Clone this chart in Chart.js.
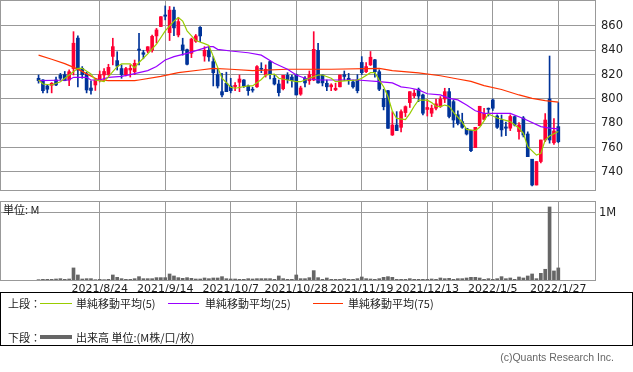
<!DOCTYPE html>
<html>
<head>
<meta charset="utf-8">
<script src="https://cdn.jsdelivr.net/npm/chart.js@4.4.1/dist/chart.umd.min.js"></script>
<style>
  body { margin: 0; width: 633px; height: 372px; background: #fff; position: relative; overflow: hidden;
         font-family: "DejaVu Sans", sans-serif; }
  canvas { position: absolute; left: 0; }
  #priceChart { top: 0; }
  #volChart { top: 200px; }
  .unit { position: absolute; left: 3px; top: 203px; font: 11px "Noto Sans CJK JP", sans-serif; line-height: 12px; color: #222; }
  .legend { position: absolute; left: 0; top: 292px; width: 631px; height: 52px; border: 1px solid #000;
            font: 11px "Noto Sans CJK JP", sans-serif; color: #222; }
  .legend span { position: absolute; line-height: 14px; white-space: nowrap; }
  .legend i { position: absolute; display: block; }
  .copy { position: absolute; right: 19px; top: 351px; font: 10.5px "Liberation Sans", sans-serif; color: #666; }
</style>
</head>
<body>
<canvas id="priceChart" width="633" height="191"></canvas>
<canvas id="volChart" width="633" height="100"></canvas>
<div class="unit">単位: M</div>
<div class="legend">
  <span style="left:7px;top:3px">上段：</span>
  <i style="left:39px;top:10px;width:32px;height:1px;background:#99cc00"></i>
  <span style="left:75px;top:3px">単純移動平均(5)</span>
  <i style="left:167px;top:10px;width:31px;height:1px;background:#9900ff"></i>
  <span style="left:204px;top:3px">単純移動平均(25)</span>
  <i style="left:312px;top:10px;width:30px;height:1px;background:#ff3300"></i>
  <span style="left:347px;top:3px">単純移動平均(75)</span>
  <span style="left:7px;top:37px">下段：</span>
  <i style="left:39px;top:42px;width:32px;height:4px;background:#666"></i>
  <span style="left:75px;top:37px">出来高 単位:(M株/口/枚)</span>
</div>
<div class="copy">(c)Quants Research Inc.</div>

<script>
// 日足 (index 0 = 2021/8/4 頃)
const opens = [
  817, 815.6, 810.7, 811.2, 815.6, 819.7, 820, 815.6, 825, 850,
  825.2, 820.6, 809, 811.5, 815.6, 819.7, 820, 835, 831.5, 825,
  820, 823.8, 822.4, 841, 838, 839.4, 840, 851.8, 859.5, 869,
  854.5, 873, 852.6, 844.4, 840.5, 837.5, 847.4, 858.9, 835.3, 840,
  830.7, 820, 806, 812.9, 810.7, 810.2, 813.7, 815.6, 810.7, 808,
  810, 825.2, 819.7, 830.7, 817, 812.3, 808.4, 819.4, 818, 820,
  804, 817, 815, 815.6, 840, 819.7, 812.9, 810, 807.5, 810,
  820, 817, 814, 815.6, 830, 822.4, 828, 832.2, 822.4, 800.5,
  806.8, 770.4, 778.6, 776.7, 788.8, 797, 802.6, 808, 803.3, 791.4,
  788.3, 792.4, 793.7, 800, 806, 797.8, 787, 781.4, 775.9, 774.2,
  760, 778, 783.3, 792.4, 799.2, 786, 782.7, 777, 776, 785.5,
  773.2, 784.4, 771.2, 750.5, 729.3, 748.6, 766.3, 800, 764, 777.3
];
const highs = [
  819.7, 816, 811.5, 813.5, 818, 821, 822.6, 824, 855.3, 851.8,
  826.6, 822, 815, 817, 823, 825, 828.5, 849.9, 838.8, 828,
  826, 828, 832, 854, 840, 843, 852.5, 858, 867.6, 876.4,
  876, 875.6, 867, 849.9, 841, 850, 853, 859.5, 843, 843,
  834.8, 825, 821, 822, 817, 813.5, 819.7, 816, 811.5, 809.6,
  827.5, 829.8, 828, 831.5, 820, 815.6, 819.4, 821.6, 819.7, 820.5,
  810.5, 818.4, 823, 855.3, 845.8, 820, 815.6, 812.5, 812.9, 819.7,
  823, 821, 815.6, 820, 834.8, 830, 839, 832.5, 824, 808,
  807, 789.6, 789.6, 791, 794.3, 806, 807.5, 809, 804, 799.5,
  795, 800, 802, 808.8, 808.8, 799.2, 790.3, 788.3, 775.9, 774.2,
  776.7, 794, 792.4, 792.6, 800, 787, 786.8, 781, 787, 786,
  780.6, 785.6, 773, 750.5, 748.6, 766.3, 788, 835.3, 783.8, 797
];
const lows = [
  813, 805, 805, 805, 811, 815.6, 815, 811, 819.7, 810,
  817, 805, 804, 807, 814, 815.6, 819.4, 828, 823.8, 817,
  819, 818, 820, 828, 833, 838, 838.5, 846, 859.5, 865,
  848, 852, 851, 836, 828, 834, 846.5, 847, 831, 831,
  810.7, 809, 801.6, 806, 805, 806.8, 806, 809.5, 803, 805.6,
  809.5, 821.6, 818, 816.4, 811.5, 802.4, 807.5, 813, 809.6, 803.3,
  803, 810, 812, 815, 813, 810.7, 806.8, 806.8, 806.8, 810,
  815, 812, 808.8, 805, 820, 821.6, 827.5, 818, 806.8, 791,
  775.9, 770, 774, 773, 785.5, 793, 801, 797.8, 786.9, 786,
  785.5, 791, 793, 797, 784.4, 776.7, 778.6, 775.9, 770.4, 756.7,
  760, 778, 782.7, 786, 790.5, 775.9, 769.3, 769.8, 774, 777.8,
  767, 768.8, 752.6, 728.5, 729.3, 747.5, 765, 763.7, 762.7, 764
];
const closes = [
  815, 806.8, 808, 812.9, 811.5, 817, 815, 822.4, 845.8, 823.8,
  820, 807.4, 807, 815.6, 820, 822.6, 826, 843, 827, 820,
  825, 825.2, 829.3, 840, 836.7, 842.9, 851.5, 856.7, 867.6, 868,
  873, 858.4, 863.6, 840, 828.5, 849.2, 851.8, 851.8, 840, 834.6,
  821.6, 810.7, 803.3, 806, 806.8, 811.2, 816.4, 810.7, 806.8, 807.2,
  826.6, 824.4, 824.4, 820, 812.3, 805.2, 819.4, 815.9, 815, 803.3,
  809, 813.2, 820, 840.8, 813.2, 813.2, 810, 811.5, 808.8, 819.7,
  818.5, 815.6, 810, 806.8, 821.6, 826.6, 834.3, 822.4, 808, 793.7,
  775.9, 778.6, 774, 789.6, 793.7, 806, 804.8, 802.4, 788.3, 793,
  792.4, 796, 800, 806, 785.6, 782.7, 780, 776.7, 771.2, 757.5,
  776.7, 794, 788.2, 791.5, 792.4, 776.7, 774.6, 776, 785.6, 778.6,
  778.6, 770.4, 752.6, 729.3, 748.6, 766.3, 782.7, 766.3, 773.7, 764.9
];
// 出来高 (M)
const volumes = [
  0.005, 0.01, 0.01, 0.01, 0.015, 0.02, 0.01, 0.015, 0.18, 0.075,
  0.015, 0.02, 0.02, 0.005, 0.01, 0.005, 0.01, 0.075, 0.04, 0.02,
  0.01, 0.01, 0.02, 0.05, 0.02, 0.02, 0.02, 0.035, 0.035, 0.035,
  0.09, 0.06, 0.035, 0.025, 0.035, 0.025, 0.015, 0.015, 0.03, 0.02,
  0.03, 0.03, 0.05, 0.02, 0.015, 0.015, 0.01, 0.01, 0.02, 0.015,
  0.02, 0.02, 0.02, 0.02, 0.01, 0.06, 0.02, 0.01, 0.01, 0.075,
  0.02, 0.02, 0.035, 0.14, 0.035, 0.01, 0.03, 0.01, 0.01, 0.01,
  0.02, 0.01, 0.01, 0.02, 0.045, 0.02, 0.015, 0.01, 0.02, 0.04,
  0.05, 0.04, 0.01, 0.01, 0.01, 0.02, 0.01, 0.01, 0.01, 0.01,
  0.015, 0.01, 0.03, 0.02, 0.025, 0.01, 0.02, 0.02, 0.03, 0.04,
  0.04, 0.03, 0.01, 0.02, 0.01, 0.02, 0.05, 0.02, 0.03, 0.01,
  0.045, 0.03, 0.06, 0.09, 0.02, 0.1, 0.16, 1.09, 0.135, 0.18
];
// 移動平均 [index, value]
const ma5 = [
  [0, 815.6], [1, 812.3], [3, 811.5], [5, 814.2], [7, 819.7], [9, 825.2], [10, 825.2], [12, 820.6],
  [13, 815.6], [15, 814.2], [16, 818.4], [18, 826.6], [19, 828.8], [21, 828.8], [22, 825.5], [23, 830],
  [25, 837], [27, 845], [29, 856], [31, 864], [32, 867], [33, 864], [34, 856], [36, 848],
  [38, 845.5], [39, 844], [40, 835], [41, 826], [42, 817], [44, 809.6], [45, 808.8], [48, 810.7],
  [49, 810.7], [51, 816], [52, 819.7], [54, 820.5], [55, 817], [57, 815.6], [59, 814.2], [60, 814.2],
  [62, 817], [64, 819.7], [65, 819.7], [67, 817], [68, 814.2], [70, 814.8], [73, 815.6], [74, 817],
  [76, 821.6], [77, 821.6], [78, 815.6], [79, 810], [80, 802], [81, 790], [82, 784], [84, 783],
  [85, 788], [86, 794], [87, 799], [89, 799], [90, 797], [91, 794], [92, 793.7], [93, 795],
  [94, 794], [95, 789], [97, 781], [98, 775], [100, 774], [101, 776.7], [102, 782], [103, 787.7],
  [105, 784.4], [108, 781.4], [110, 775.9], [111, 771.8], [112, 760.8], [114, 753.9], [115, 755.3],
  [116, 766.3], [117, 769.6], [119, 773.2]
];
const ma25 = [
  [0, 815], [7, 815.6], [8, 817.8], [11, 817.8], [12, 815.6], [14, 815.6], [16, 817.8], [19, 818.5],
  [21, 820], [25, 823.3], [27, 826.6], [29, 832], [31, 834.8], [34, 837.5], [37, 840.8], [39, 843],
  [40, 843], [41, 840.8], [44, 839.4], [48, 838], [51, 836], [54, 829.3], [57, 824.4], [59, 819.7],
  [61, 817], [64, 815.6], [73, 815.6], [78, 814.2], [81, 813.2], [83, 810], [85, 809], [87, 807.5],
  [89, 804.3], [92, 803.3], [94, 800.5], [96, 799.2], [98, 795], [100, 790.3], [102, 788.2],
  [108, 788.2], [111, 784], [115, 777.3], [117, 776], [119, 775.4]
];
const ma75 = [
  [0, 836], [3, 832.6], [6, 829], [9, 824.5], [11, 820.6], [13, 817], [14, 815.6], [16, 815],
  [22, 815], [23, 815.6], [28, 818.5], [32, 821.6], [37, 823.8], [40, 825.2], [44, 824.4],
  [49, 823.3], [57, 824.4], [67, 824.4], [78, 825.2], [81, 823.3], [87, 821.5], [92, 819.1],
  [96, 816.4], [99, 814.5], [102, 811], [106, 807.8], [110, 803.3], [113, 800.5], [116, 798.6],
  [119, 797.4]
];
const dateIdx = [14, 29, 44, 59, 74, 89, 104, 119];
const dateLabels = ['2021/8/24', '2021/9/14', '2021/10/7', '2021/10/28', '2021/11/19', '2021/12/13', '2022/1/5', '2022/1/27'];
const priceTicks = [740, 760, 780, 800, 820, 840, 860];

const UP = '#ff0033';
const DOWN = '#003399';
const GRID = '#999999';
const X_MIN = -8.6;
const X_MAX = 127.4;

const candleColor = opens.map((o, i) => closes[i] >= o ? UP : DOWN);

// 枠線
const framePlugin = {
    id: 'frame',
    afterDraw(chart) {
        const {ctx, chartArea: a} = chart;
        ctx.save();
        ctx.strokeStyle = GRID;
        ctx.lineWidth = 1;
        ctx.strokeRect(Math.round(a.left) - 0.5, Math.round(a.top) - 0.5,
            Math.round(a.right - a.left) + 1, Math.round(a.bottom - a.top) + 1);
        ctx.restore();
    }
};

// 軸ラベルによる自動余白を消す
function noPadding(s) {
    s.paddingLeft = 0;
    s.paddingRight = 0;
    s.paddingTop = 0;
    s.paddingBottom = 0;
}

function xScale(showLabels) {
    return {
        type: 'linear',
        min: X_MIN,
        max: X_MAX,
        offset: false,
        afterBuildTicks: ax => { ax.ticks = dateIdx.map(v => ({value: v})); },
        afterFit: s => { s.height = showLabels ? 20 : 0; noPadding(s); },
        ticks: {
            display: showLabels,
            autoSkip: false,
            maxRotation: 0,
            padding: 3,
            color: '#222',
            font: {family: 'DejaVu Sans', size: 11},
            callback: v => dateLabels[dateIdx.indexOf(v)]
        },
        grid: {color: GRID, drawTicks: false, offset: false},
        border: {display: false}
    };
}

function renderPriceChart() {
    const ctx = document.getElementById('priceChart').getContext('2d');
    const line = (pts, color) => ({
        type: 'line',
        data: pts.map(p => ({x: p[0], y: p[1]})),
        borderColor: color,
        borderWidth: 1.2,
        pointRadius: 0,
        tension: 0,
        order: 0
    });
    new Chart(ctx, {
        type: 'bar',
        data: {
            datasets: [
                line(ma5, '#99cc00'),
                line(ma25, '#9900ff'),
                line(ma75, '#ff3300'),
                {
                    data: opens.map((o, i) => ({x: i, y: [o, closes[i]]})),
                    backgroundColor: candleColor,
                    barThickness: 3,
                    grouped: false,
                    order: 1
                },
                {
                    data: lows.map((l, i) => ({x: i, y: [l, highs[i]]})),
                    backgroundColor: candleColor,
                    barThickness: 1,
                    grouped: false,
                    order: 2
                }
            ]
        },
        options: {
            responsive: false,
            animation: false,
            layout: {padding: {left: 1, top: 1, right: 0, bottom: 1}},
            plugins: {legend: {display: false}, tooltip: {enabled: false}},
            scales: {
                x: xScale(false),
                y: {
                    position: 'right',
                    min: 725.2,
                    max: 880.5,
                    afterBuildTicks: ax => { ax.ticks = priceTicks.map(v => ({value: v})); },
                    afterFit: s => { s.width = 38; noPadding(s); },
                    ticks: {padding: 6, color: '#222', font: {family: 'DejaVu Sans', size: 11.5}},
                    grid: {color: GRID, drawTicks: false},
                    border: {display: false}
                }
            }
        },
        plugins: [framePlugin]
    });
}

function renderVolumeChart() {
    const ctx = document.getElementById('volChart').getContext('2d');
    new Chart(ctx, {
        type: 'bar',
        data: {
            datasets: [{
                data: volumes.map((v, i) => ({x: i, y: v})),
                backgroundColor: '#666666',
                barThickness: 3
            }]
        },
        options: {
            responsive: false,
            animation: false,
            layout: {padding: {left: 1, top: 2, right: 0, bottom: 0}},
            plugins: {legend: {display: false}, tooltip: {enabled: false}},
            scales: {
                x: xScale(true),
                y: {
                    position: 'right',
                    min: 0,
                    max: 1.164,
                    afterBuildTicks: ax => { ax.ticks = [{value: 1}]; },
                    afterFit: s => { s.width = 38; noPadding(s); },
                    ticks: {padding: 4, color: '#222', font: {family: 'DejaVu Sans', size: 11.5}, callback: () => '1M'},
                    grid: {color: GRID, drawTicks: false},
                    border: {display: false}
                }
            }
        },
        plugins: [framePlugin]
    });
}

renderPriceChart();
renderVolumeChart();
</script>
</body>
</html>
